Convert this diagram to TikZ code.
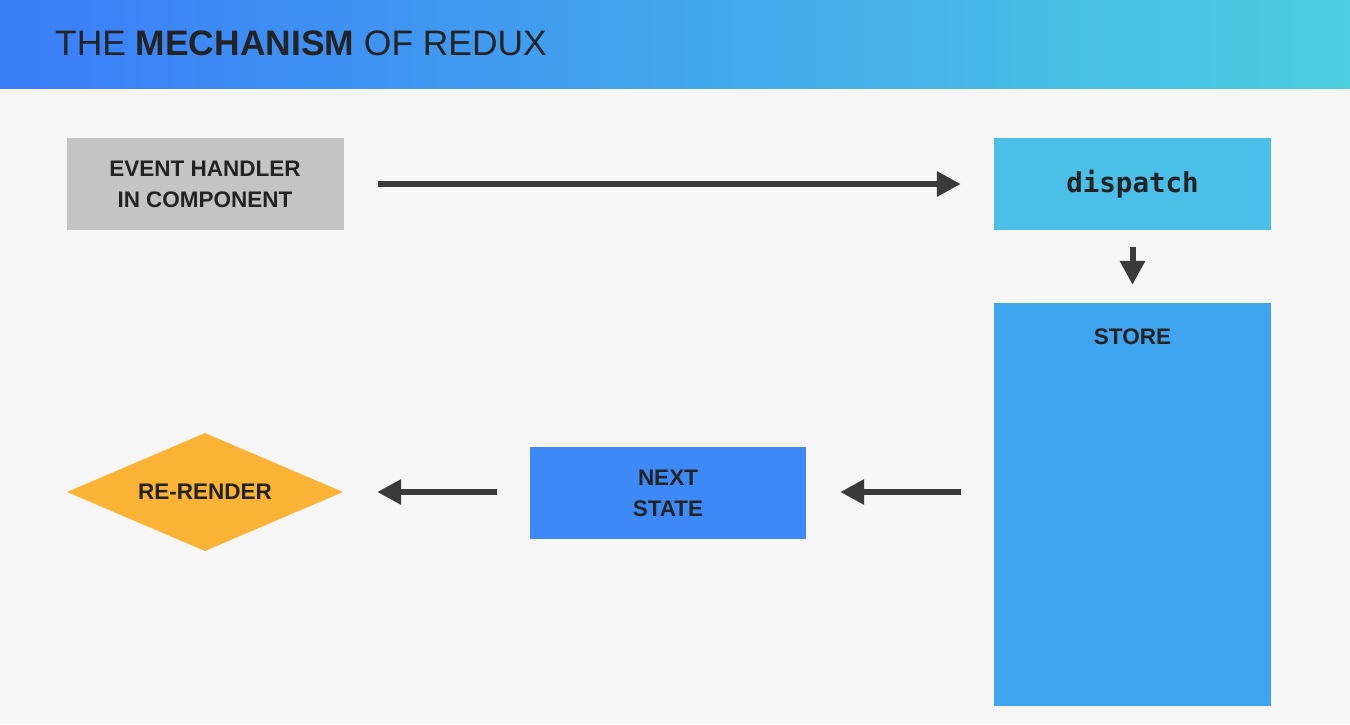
\documentclass[tikz,border=0pt]{standalone}
\usepackage{fontspec}
\setmainfont{Liberation Sans}
\newfontfamily\codefont{DejaVu Sans Mono}
\usetikzlibrary{arrows.meta,shapes.geometric}
\definecolor{bgcol}{HTML}{F6F6F6}
\definecolor{headleft}{HTML}{3A7DF8}
\definecolor{headright}{HTML}{4CCFE0}
\definecolor{ink}{HTML}{232323}
\definecolor{arrowcol}{HTML}{3A3A3A}
\definecolor{handlercol}{HTML}{C4C4C4}
\definecolor{dispatchcol}{HTML}{4BBFE7}
\definecolor{storecol}{HTML}{41A4EF}
\definecolor{nextcol}{HTML}{3D8AF7}
\definecolor{rendercol}{HTML}{FBB335}

\begin{document}
\begin{tikzpicture}[x=1pt,y=-1pt]
    \tikzset{block/.style = {shape=rectangle, inner sep=0pt, minimum width=277pt, minimum height=92pt, text=ink, align=center, font=\fontsize{22.5}{31}\selectfont\bfseries}}
    \tikzset{flow/.style = {draw=arrowcol, line width=6pt, -{Triangle[length=24pt,width=24pt]}}}

    % background and header
    \useasboundingbox (0,0) rectangle (1350,724);
    \fill[bgcol] (0,0) rectangle (1350,724);
    \shade[left color=headleft, right color=headright] (0,0) rectangle (1350,88);
    \node[anchor=west, text=ink, inner sep=0pt, font=\fontsize{35.4}{40}\selectfont] (title) at (55,43)
        {THE \textbf{MECHANISM} OF REDUX};

    % vertices
    \node[block, fill=handlercol] (handler) at (205,184) {EVENT HANDLER\\IN COMPONENT};
    \node[block, fill=dispatchcol, font=\fontsize{27.5}{31}\codefont\bfseries] (dispatch) at (1132.5,184) {dispatch};
    \node[block, fill=storecol, minimum height=403pt,
          label={[anchor=center, yshift=-34pt, text=ink, font=\fontsize{22.5}{31}\selectfont\bfseries]north:STORE}] (store) at (1132.5,504.5) {};
    \node[block, fill=nextcol, minimum width=276pt] (next) at (668,493) {NEXT\\STATE};
    \node[shape=diamond, aspect=2.34, fill=rendercol, inner sep=0pt, minimum width=276pt, minimum height=118pt,
          text=ink, font=\fontsize{22.5}{31}\selectfont\bfseries] (render) at (205,492) {RE-RENDER};

    % edges
    \draw[flow, shorten <=34pt, shorten >=33pt] (handler) -- (dispatch);
    \draw[flow, shorten <=17pt, shorten >=18pt] (dispatch) -- (store);
    \draw[flow, shorten <=33pt, shorten >=34pt] (store.west |- render.east) -- (next.east |- render.east);
    \draw[flow, shorten <=33pt, shorten >=34pt] (next.west |- render.east) -- (render.east);
\end{tikzpicture}
\end{document}
